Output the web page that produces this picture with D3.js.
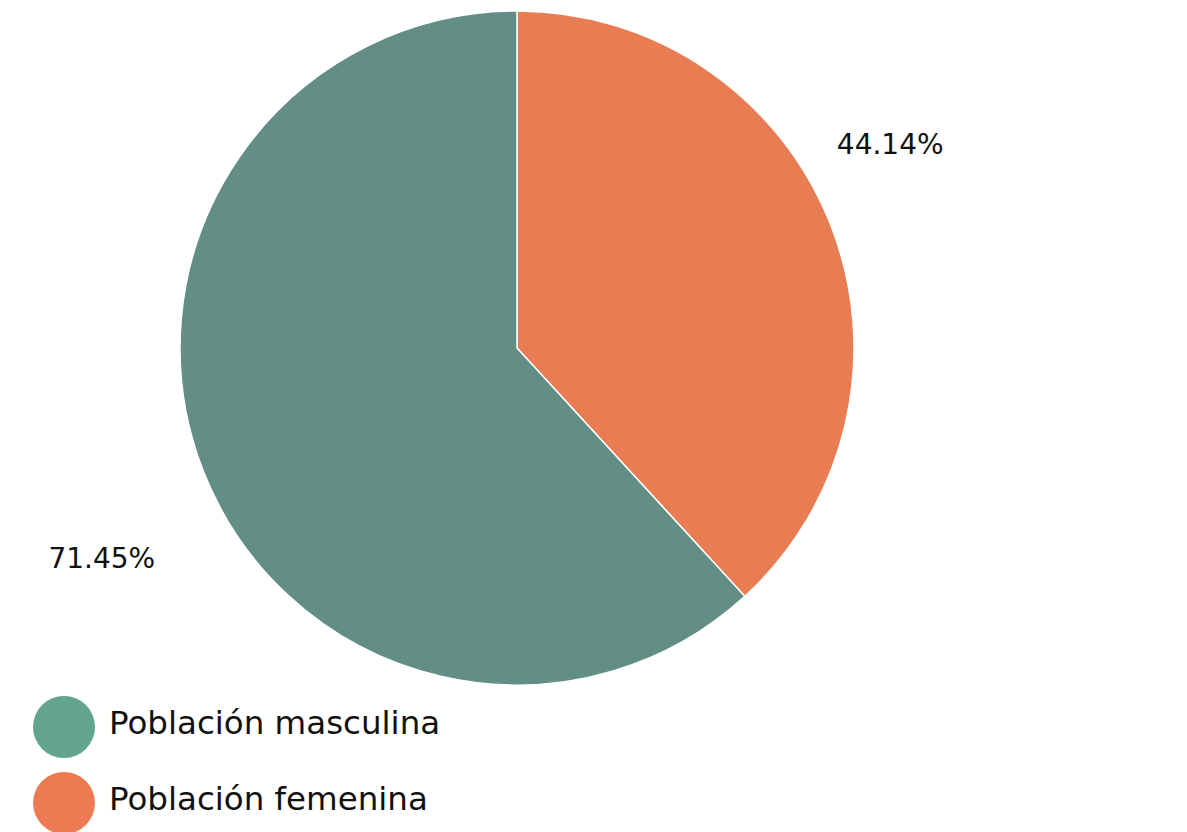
<!DOCTYPE html>
<html><head><meta charset="utf-8">
<script src="https://cdn.jsdelivr.net/npm/d3@7"></script>
<style>body{margin:0;background:#fff;}svg{display:block;}</style>
</head><body>
<script>
const categories = ["Población femenina", "Población masculina"];
const values = [44.14, 71.45];
const labels = ["44.14%", "71.45%"];
const sliceColors = ["#E87D54", "#628E86"];
const legendOrder = ["Población masculina", "Población femenina"];
const legendColors = ["#63A48C", "#EC7A53"];

const W = 1187, H = 832;
const cx = 517, cy = 348, r = 337;
const svg = d3.select("body").append("svg").attr("width", W).attr("height", H);
const font = "'DejaVu Sans', sans-serif";

const data = categories.map((c, i) => ({c, v: values[i], label: labels[i], color: sliceColors[i]}));
const pie = d3.pie().value(d => d.v).sort(null);
const arc = d3.arc().innerRadius(0).outerRadius(r);
const outer = d3.arc().innerRadius(423).outerRadius(423);
const g = svg.append("g").attr("transform", `translate(${cx},${cy})`);
const arcs = pie(data);
g.selectAll("path").data(arcs).join("path")
  .attr("d", arc).attr("fill", d => d.data.color)
  .attr("stroke", "#fff").attr("stroke-width", 1.5);

g.selectAll("text.lbl").data(arcs).join("text").attr("class", "lbl")
  .attr("transform", d => {
    const [x, y] = outer.centroid(d);
    return `translate(${x - 21},${y + (y < 0 ? -52 : 56) + 11})`;
  })
  .attr("text-anchor", "middle")
  .attr("font-family", font).attr("font-size", 28).attr("fill", "#111")
  .text(d => d.data.label);

const leg = svg.append("g").attr("transform", "translate(64,727)");
legendOrder.forEach((name, i) => {
  const row = leg.append("g").attr("transform", `translate(0,${i * 76})`);
  row.append("circle").attr("r", 31).attr("fill", legendColors[i]);
  row.append("text").attr("x", 45).attr("y", 7)
    .attr("font-family", font).attr("font-size", 32.5).attr("fill", "#111").text(name);
});
</script>
</body></html>
